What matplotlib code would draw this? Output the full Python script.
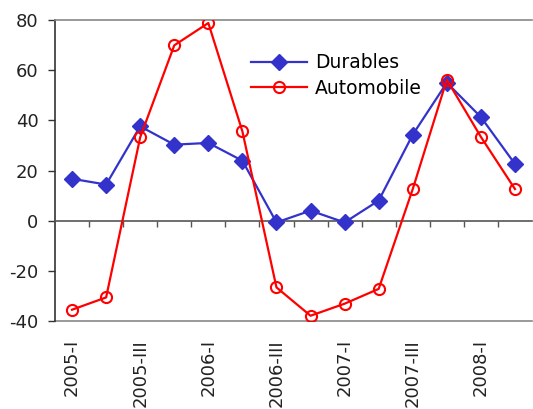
import matplotlib
matplotlib.use("Agg")
import matplotlib.pyplot as plt
import numpy as np
from matplotlib.ticker import FixedLocator, MultipleLocator

quarters = [
    "2005-I", "2005-II", "2005-III", "2005-IV",
    "2006-I", "2006-II", "2006-III", "2006-IV",
    "2007-I", "2007-II", "2007-III", "2007-IV",
    "2008-I", "2008-II",
]
durables = [16.7, 14.4, 37.6, 30.3, 31.0, 23.9, -0.7, 4.0, -0.7, 8.0, 34.3, 55.0, 41.3, 22.6]
automobile = [-35.5, -30.6, 33.2, 69.9, 78.8, 35.6, -26.6, -37.9, -33.1, -27.2, 12.6, 56.2, 33.4, 12.6]

plt.rcParams["font.family"] = ["DejaVu Sans"]
plt.rcParams["axes.unicode_minus"] = False
text_color = "#222222"

fig = plt.figure(figsize=(5.33, 4.09), dpi=100)
ax = fig.add_axes([55 / 533, 88 / 409, 477 / 533, 301 / 409])

x = np.arange(len(quarters))
ax.plot(x, durables, "-D", color="#3333CC", linewidth=1.6, markersize=8.5,
        label="Durables", zorder=3)
ax.plot(x, automobile, "-o", color="#FF0000", linewidth=1.6, markersize=8,
        markerfacecolor="none", markeredgewidth=1.5, label="Automobile", zorder=4)

ax.set_xlim(-0.5, len(quarters) - 0.5)
ax.set_ylim(-40, 80)
ax.yaxis.set_major_locator(MultipleLocator(20))
ax.tick_params(axis="y", direction="out", length=5, width=1, pad=7,
               labelsize=13, colors="#333333")
for lbl in ax.get_yticklabels():
    lbl.set_color(text_color)

# category axis line sits on zero, tick marks at the boundaries
ax.spines["bottom"].set_position(("data", 0))
ax.spines["bottom"].set_color("#555555")
ax.spines["bottom"].set_linewidth(1.2)
ax.xaxis.set_major_locator(FixedLocator([]))
ax.xaxis.set_minor_locator(FixedLocator(np.arange(0.5, len(quarters) - 0.5, 1)))
ax.tick_params(axis="x", which="minor", direction="out", length=4, width=1,
               color="#555555")

ax.spines["left"].set_color("#333333")
ax.spines["left"].set_linewidth(1.2)
ax.spines["top"].set_color("#888888")
ax.spines["top"].set_linewidth(1.2)
ax.spines["right"].set_visible(False)

# labels for every second quarter along the bottom edge
sec = ax.secondary_xaxis(0)
sec.set_xticks(x[::2])
sec.set_xticklabels(quarters[::2], rotation=90, va="top", ha="center",
                    fontsize=13, color=text_color)
sec.tick_params(length=0, pad=13)
sec.spines["bottom"].set_color("#888888")
sec.spines["bottom"].set_linewidth(1.2)

ax.legend(loc="upper left", bbox_to_anchor=(0.395, 0.915), frameon=False,
          fontsize=13.5, numpoints=1, handlelength=3.0, handletextpad=0.4,
          labelspacing=0.35, borderaxespad=0)

fig.savefig("out.png", dpi=100)
